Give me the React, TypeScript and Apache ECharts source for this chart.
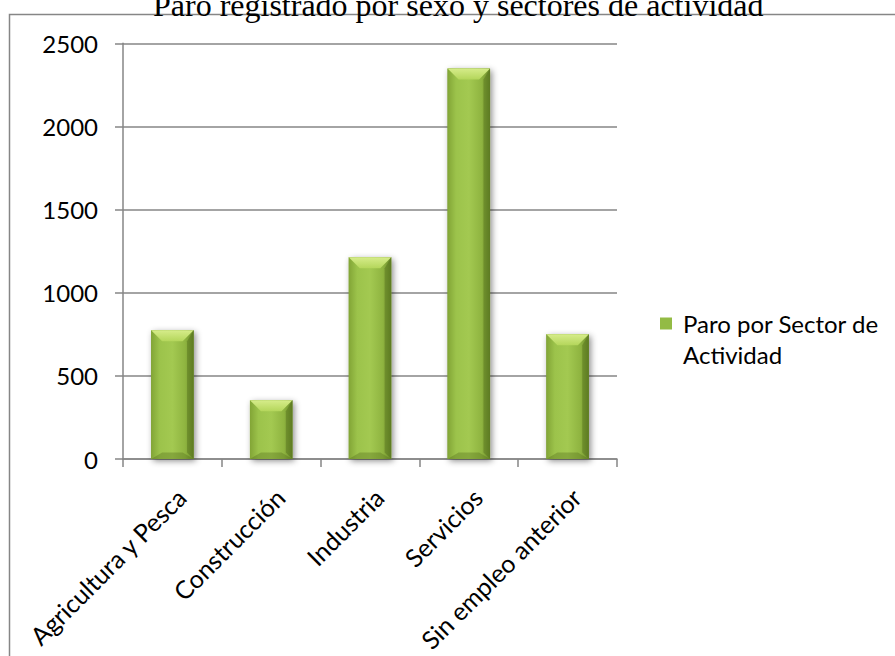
import React, { useEffect, useRef } from "react";
import * as echarts from "echarts";

const titleText = "Paro registrado por sexo y sectores de actividad";
const seriesName = "Paro por Sector de Actividad";
const legendLines = ["Paro por Sector de", "Actividad"];
const categories = [
  "Agricultura y Pesca",
  "Construcción",
  "Industria",
  "Servicios",
  "Sin empleo anterior",
];
const values = [774, 353, 1213, 2349, 750];
const yMin = 0;
const yMax = 2500;
const yInterval = 500;

const FONT = "Lato";
const GRAY = "#868686";

export default function App() {
  const ref = useRef<HTMLDivElement>(null);
  useEffect(() => {
    document.body.style.margin = "0";
    if (!ref.current) return;
    const chart = echarts.init(ref.current, undefined, { renderer: "svg" });
    const data = categories.map((c, i) => [i, values[i]]);
    chart.setOption({
      animation: false,
      backgroundColor: "#ffffff",
      title: {
        text: titleText,
        left: 153,
        top: -11,
        padding: 0,
        textStyle: {
          fontFamily: "Liberation Serif",
          fontSize: 32,
          fontWeight: "normal",
          color: "#000",
        },
      },
      graphic: [
        {
          type: "rect",
          z: -1,
          shape: { x: 9.5, y: 14.5, width: 920, height: 700 },
          style: { fill: "none", stroke: GRAY, lineWidth: 1.5 },
          silent: true,
        },
      ],
      legend: {
        left: 660,
        top: 277,
        padding: 0,
        orient: "vertical",
        icon: "rect",
        itemWidth: 12,
        itemHeight: 12,
        formatter: () =>
          "\n" + legendLines.map((l) => "{a|" + l + "}").join("\n"),
        textStyle: {
          fontFamily: FONT,
          fontSize: 24,
          lineHeight: 31,
          color: "#000",
          rich: {
            a: {
              fontFamily: FONT,
              fontSize: 24,
              lineHeight: 31,
              color: "#000",
              padding: [0, 0, 0, 6],
            },
          },
        },
        itemStyle: { color: "#93bb44" },
        data: [seriesName],
      },
      grid: { left: 123, top: 43.3, width: 494, height: 415.7 },
      xAxis: {
        type: "category",
        data: categories,
        axisLine: { show: true, lineStyle: { color: GRAY, width: 1.5 } },
        axisTick: { show: true, length: 8, lineStyle: { color: GRAY, width: 1.5 } },
        axisLabel: {
          rotate: 45,
          interval: 0,
          margin: 25,
          verticalAlign: "top",
          fontFamily: FONT,
          fontSize: 25,
          color: "#000",
        },
      },
      yAxis: {
        type: "value",
        min: yMin,
        max: yMax,
        interval: yInterval,
        axisLine: { show: true, lineStyle: { color: GRAY, width: 1.5 } },
        axisTick: { show: true, length: 8, lineStyle: { color: GRAY, width: 1.5 } },
        splitLine: { show: true, lineStyle: { color: GRAY, width: 1.5 } },
        axisLabel: {
          margin: 25,
          fontFamily: FONT,
          fontSize: 24,
          color: "#000",
          formatter: (v: number) => String(v),
        },
      },
      series: [
        {
          type: "custom",
          name: seriesName,
          itemStyle: { color: "#93bb44" },
          encode: { x: 0, y: 1 },
          data,
          renderItem: (params: any, api: any) => {
            const i = api.value(0);
            const v = api.value(1);
            const top = api.coord([i, v]);
            const base = api.coord([i, 0]);
            const band = api.size([1, 0])[0];
            const w = band * 0.43;
            const x0 = top[0] - w / 2;
            const x1 = x0 + w;
            const yt = top[1];
            const yb = base[1];
            const h = yb - yt;
            const b = Math.min(11, h / 2);
            const hGrad = new echarts.graphic.LinearGradient(0, 0, 1, 0, [
              { offset: 0, color: "#82a536" },
              { offset: 0.2, color: "#9cc34b" },
              { offset: 0.5, color: "#a3c951" },
              { offset: 0.8, color: "#8fb440" },
              { offset: 1, color: "#6b8b2a" },
            ]);
            return {
              type: "group",
              children: [
                {
                  type: "rect",
                  shape: { x: x0, y: yt, width: w, height: h },
                  style: {
                    fill: "#7a9a35",
                    shadowBlur: 6,
                    shadowColor: "rgba(0,0,0,0.45)",
                    shadowOffsetX: 2,
                    shadowOffsetY: 2,
                  },
                },
                {
                  type: "rect",
                  shape: { x: x0, y: yt, width: w, height: h },
                  style: { fill: hGrad },
                },
                {
                  type: "polygon",
                  shape: {
                    points: [
                      [x0, yt],
                      [x1, yt],
                      [x1 - b, yt + b],
                      [x0 + b, yt + b],
                    ],
                  },
                  style: {
                    fill: new echarts.graphic.LinearGradient(0, 0, 0, 1, [
                      { offset: 0, color: "#d6ec8a" },
                      { offset: 1, color: "#b4d65b" },
                    ]),
                  },
                },
                {
                  type: "polygon",
                  shape: {
                    points: [
                      [x0, yb],
                      [x1, yb],
                      [x1 - b, yb - b * 0.6],
                      [x0 + b, yb - b * 0.6],
                    ],
                  },
                  style: { fill: "rgba(80,105,25,0.35)" },
                },
                {
                  type: "polygon",
                  shape: {
                    points: [
                      [x1, yt],
                      [x1, yb],
                      [x1 - b * 0.6, yb - b * 0.6],
                      [x1 - b * 0.6, yt + b],
                    ],
                  },
                  style: { fill: "rgba(70,95,20,0.35)" },
                },
              ],
            };
          },
        },
      ],
    });
    return () => chart.dispose();
  }, []);
  return <div ref={ref} style={{ width: 895, height: 656 }} />;
}
